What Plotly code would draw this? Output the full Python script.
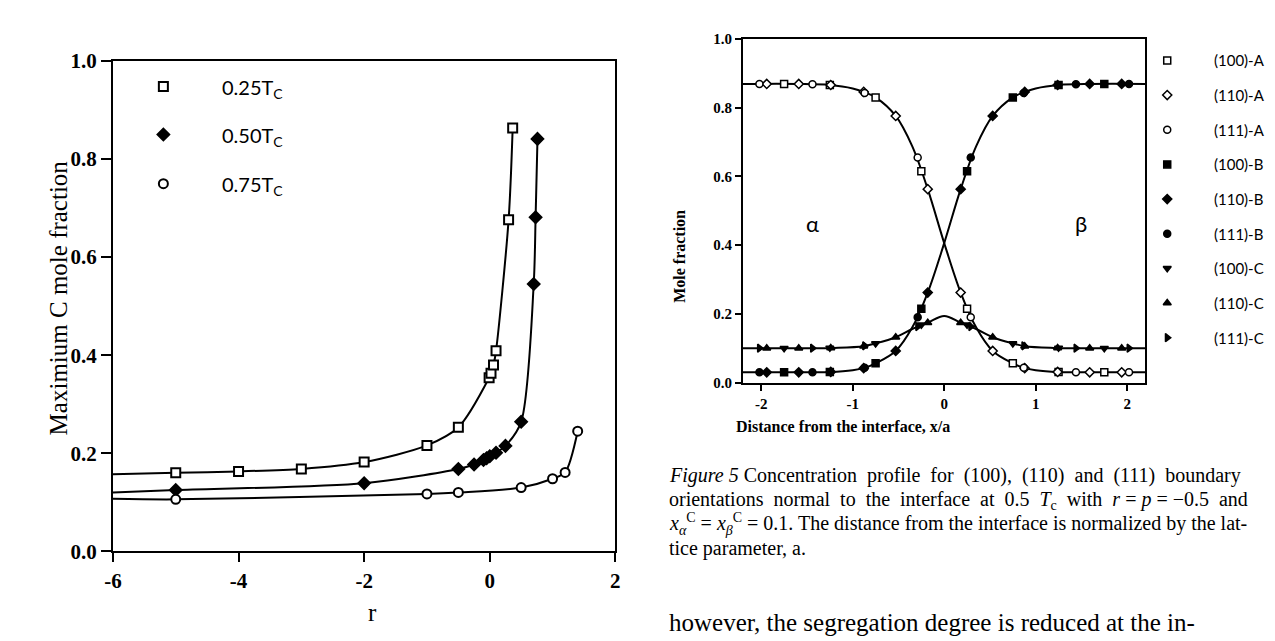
import plotly.graph_objects as go

# ---------------- Left chart data: maximum C mole fraction vs r ----------------
r_start = -6.0
line_start_y = [0.157, 0.120, 0.107]          # curves at left edge (r = -6)

r_025 = [-5, -4, -3, -2, -1, -0.5, -0.01, 0.02, 0.06, 0.10, 0.30, 0.365]
y_025 = [0.160, 0.163, 0.168, 0.182, 0.216, 0.253, 0.354, 0.363, 0.380, 0.409, 0.676, 0.863]

r_050 = [-5, -2, -0.5, -0.25, -0.1, -0.05, 0.0, 0.1, 0.25, 0.5, 0.70, 0.73, 0.76]
y_050 = [0.125, 0.139, 0.168, 0.177, 0.186, 0.190, 0.194, 0.201, 0.215, 0.264, 0.545, 0.681, 0.841]

r_075 = [-5, -1, -0.5, 0.5, 1.0, 1.2, 1.4]
y_075 = [0.106, 0.117, 0.120, 0.130, 0.148, 0.161, 0.245]

left_names = ["0.25T<sub>C</sub>", "0.50T<sub>C</sub>", "0.75T<sub>C</sub>"]

# ---------------- Right chart data: concentration profiles ----------------
cA_x = [-2.2, -1.6, -1.25, -1.0, -0.88, -0.75, -0.53, -0.35, -0.18, 0.0, 0.18, 0.35, 0.53, 0.75, 0.88, 1.0, 1.25, 1.6, 2.2]
cA_y = [0.869, 0.869, 0.866, 0.856, 0.846, 0.830, 0.776, 0.688, 0.563, 0.406, 0.262, 0.160, 0.092, 0.056, 0.042, 0.036, 0.031, 0.030, 0.030]
cB_x = [-2.2, -1.6, -1.25, -1.0, -0.88, -0.75, -0.53, -0.35, -0.18, 0.0, 0.18, 0.35, 0.53, 0.75, 0.88, 1.0, 1.25, 1.6, 2.2]
cB_y = [0.030, 0.030, 0.031, 0.036, 0.042, 0.056, 0.092, 0.160, 0.262, 0.406, 0.563, 0.688, 0.776, 0.830, 0.846, 0.856, 0.866, 0.869, 0.869]
cC_x = [-2.2, -1.5, -1.2, -0.88, -0.75, -0.53, -0.35, -0.18, 0.0, 0.18, 0.35, 0.53, 0.75, 0.88, 1.2, 1.5, 2.2]
cC_y = [0.100, 0.100, 0.101, 0.106, 0.114, 0.132, 0.156, 0.174, 0.194, 0.174, 0.156, 0.132, 0.114, 0.106, 0.101, 0.100, 0.100]

x100 = [-1.75, -1.25, -0.75, -0.25, 0.25, 0.75, 1.25, 1.75]
x110 = [-1.94, -1.59, -1.24, -0.88, -0.53, -0.18, 0.18, 0.53, 0.88, 1.24, 1.59, 1.94]
x111 = [-2.02, -1.44, -0.87, -0.29, 0.29, 0.87, 1.44, 2.02]

y100_A = [0.869, 0.866, 0.830, 0.615, 0.215, 0.056, 0.031, 0.030]
y110_A = [0.869, 0.869, 0.866, 0.846, 0.776, 0.563, 0.262, 0.092, 0.042, 0.031, 0.030, 0.030]
y111_A = [0.869, 0.868, 0.843, 0.655, 0.190, 0.043, 0.030, 0.030]
y100_B = [0.030, 0.031, 0.056, 0.215, 0.615, 0.830, 0.866, 0.869]
y110_B = [0.030, 0.030, 0.031, 0.042, 0.092, 0.262, 0.563, 0.776, 0.846, 0.866, 0.869, 0.869]
y111_B = [0.030, 0.030, 0.043, 0.190, 0.655, 0.843, 0.868, 0.869]
y100_C = [0.100, 0.101, 0.114, 0.168, 0.168, 0.114, 0.101, 0.100]
y110_C = [0.100, 0.100, 0.101, 0.106, 0.132, 0.174, 0.174, 0.132, 0.106, 0.101, 0.100, 0.100]
y111_C = [0.100, 0.100, 0.107, 0.163, 0.163, 0.107, 0.100, 0.100]

right_names = ["(100)-A", "(110)-A", "(111)-A", "(100)-B", "(110)-B", "(111)-B", "(100)-C", "(110)-C", "(111)-C"]
right_symbols = ["square", "diamond", "circle", "square", "diamond", "circle",
                 "triangle-down", "triangle-up", "triangle-right"]
right_fill = ["white", "white", "white", "black", "black", "black", "black", "black", "black"]

caption_lines = [
    "<i>Figure 5</i> Concentration  profile  for  (100),  (110)  and  (111)  boundary",
    "orientations  normal  to  the  interface  at  0.5  <i>T</i><sub>c</sub>  with  <i>r</i> = <i>p</i> = \u22120.5  and",
    "<i>x</i><sub><i>\u03b1</i></sub><sup>C</sup> = <i>x</i><sub><i>\u03b2</i></sub><sup>C</sup> = 0.1. The distance from the interface is normalized by the lat-",
    "tice parameter, a.",
]
body_line = "however, the segregation degree is reduced at the in-"

W, H = 1275, 641
SERIF = "Liberation Serif, Times New Roman, serif"
SANS = "Lato, Open Sans, sans-serif"

# pixel frames of the two plot areas
L_X0, L_X1, L_Y0, L_Y1 = 97, 605, 552, 42.5
R_X0, R_X1, R_Y0, R_Y1 = 734, 1141, 376.7, 19.7
G_X0 = 1147   # start of the legend strip right of the profile chart


def lpx(x, y):
    return -6 + (x - L_X0) / (L_X1 - L_X0) * 8, (L_Y0 - y) / (L_Y0 - L_Y1)


def pp(x, y):
    return x / W, 1 - y / H


fig = go.Figure()

# ---- left curves ----
left_sets = [(r_025, y_025, "square", "white"), (r_050, y_050, "diamond", "black"), (r_075, y_075, "circle", "white")]
for i, (rx, ry, sym, fill) in enumerate(left_sets):
    fig.add_trace(go.Scatter(x=[r_start] + rx, y=[line_start_y[i]] + ry, mode="lines",
                             line=dict(color="black", width=2, shape="spline", smoothing=0.8),
                             xaxis="x", yaxis="y", showlegend=False, hoverinfo="skip"))
for i, (rx, ry, sym, fill) in enumerate(left_sets):
    fig.add_trace(go.Scatter(x=rx, y=ry, mode="markers",
                             marker=dict(symbol=sym, size=9, color=fill, line=dict(color="black", width=2)),
                             xaxis="x", yaxis="y", showlegend=False, name=left_names[i]))

# ---- right curves ----
for cx, cy in [(cA_x, cA_y), (cB_x, cB_y), (cC_x, cC_y)]:
    fig.add_trace(go.Scatter(x=cx, y=cy, mode="lines",
                             line=dict(color="black", width=2, shape="spline", smoothing=1.0),
                             xaxis="x2", yaxis="y2", showlegend=False, hoverinfo="skip"))

right_series = [(x100, y100_A), (x110, y110_A), (x111, y111_A),
                (x100, y100_B), (x110, y110_B), (x111, y111_B),
                (x100, y100_C), (x110, y110_C), (x111, y111_C)]
for i, (sx, sy) in enumerate(right_series):
    fig.add_trace(go.Scatter(x=sx, y=sy, mode="markers", name=right_names[i],
                             marker=dict(symbol=right_symbols[i], size=7, color=right_fill[i],
                                         line=dict(color="black", width=1.5)),
                             xaxis="x2", yaxis="y2", showlegend=False))

# ---- hand-drawn legends ----
left_leg_px = [(148, 69), (148, 119), (148, 170)]
lx, ly = zip(*[lpx(a, b) for a, b in left_leg_px])
fig.add_trace(go.Scatter(x=lx, y=ly, mode="markers", xaxis="x", yaxis="y", cliponaxis=False,
                         marker=dict(symbol=[s[2] for s in left_sets], size=9,
                                     color=[s[3] for s in left_sets], line=dict(color="black", width=2)),
                         showlegend=False, hoverinfo="skip"))
right_leg_px = [(1163, 42 + 36 * i) for i in range(9)]
fig.add_trace(go.Scatter(x=[p[0] for p in right_leg_px], y=[p[1] for p in right_leg_px],
                         mode="markers", xaxis="x3", yaxis="y3", cliponaxis=False,
                         marker=dict(symbol=right_symbols, size=7, color=right_fill,
                                     line=dict(color="black", width=1.5)),
                         showlegend=False, hoverinfo="skip"))

ann = []


def add_text(x, y, text, size, family, **kw):
    ax, ay = pp(x, y)
    d = dict(x=ax, y=ay, xref="paper", yref="paper", text=text, showarrow=False,
             font=dict(family=family, size=size, color="black"))
    d.update(kw)
    ann.append(d)


for i, t in enumerate(left_names):
    add_text(205, left_leg_px[i][1] + 2, t, 20, SANS, xanchor="left", yanchor="middle")
for i, t in enumerate(right_names):
    add_text(1208, right_leg_px[i][1], t, 15, SANS, xanchor="left", yanchor="middle")

add_text(26, 289, "Maximium C mole fraction", 25, SERIF, textangle=-90)
add_text(353, 632, "r", 25, SERIF)
add_text(670, 195, "<b>Mole fraction</b>", 16, SERIF, textangle=-90)
add_text(945, 422, "<b>Distance from the interface, x/a</b>", 16, SERIF)

ann.append(dict(x=-1.44, y=0.462, xref="x2", yref="y2", text="\u03b1", showarrow=False,
                font=dict(family=SANS, size=22, color="black")))
ann.append(dict(x=1.50, y=0.462, xref="x2", yref="y2", text="\u03b2", showarrow=False,
                font=dict(family=SANS, size=22, color="black")))

cap_y = [473, 499, 524, 549]
for i, t in enumerate(caption_lines):
    add_text(657, cap_y[i], t, 20, SERIF, xanchor="left", yanchor="middle")
add_text(657, 626, body_line, 25, SERIF, xanchor="left", yanchor="middle")

axis_common = dict(showline=True, linecolor="black", linewidth=2, mirror=True, showgrid=False,
                   zeroline=False, ticks="outside", tickcolor="black")

fig.update_layout(
    width=W, height=H, margin=dict(l=0, r=0, t=0, b=0),
    paper_bgcolor="white", plot_bgcolor="white", showlegend=False,
    annotations=ann,
    xaxis=dict(domain=[L_X0 / W, L_X1 / W], range=[-6, 2], tickvals=[-6, -4, -2, 0, 2],
               ticktext=["<b>-6</b>", "<b>-4</b>", "<b>-2</b>", "<b>0</b>", "<b>2</b>"], ticklen=9, tickwidth=2,
               tickfont=dict(family=SERIF, size=21, color="black"), anchor="y", **axis_common),
    yaxis=dict(domain=[1 - L_Y0 / H, 1 - L_Y1 / H], range=[0, 1], tickvals=[0, 0.2, 0.4, 0.6, 0.8, 1.0],
               ticktext=["<b>0.0</b>", "<b>0.2</b>", "<b>0.4</b>", "<b>0.6</b>", "<b>0.8</b>", "<b>1.0</b>"],
               ticklen=10, tickwidth=2,
               tickfont=dict(family=SERIF, size=21, color="black"), anchor="x", **axis_common),
    xaxis2=dict(domain=[R_X0 / W, R_X1 / W], range=[-2.2, 2.2], tickvals=[-2, -1, 0, 1, 2],
                ticktext=["<b>-2</b>", "<b>-1</b>", "<b>0</b>", "<b>1</b>", "<b>2</b>"], ticklen=6, tickwidth=1.5,
                tickfont=dict(family=SERIF, size=15, color="black"), anchor="y2", **axis_common),
    yaxis2=dict(domain=[1 - R_Y0 / H, 1 - R_Y1 / H], range=[0, 1], tickvals=[0, 0.2, 0.4, 0.6, 0.8, 1.0],
                ticktext=["<b>0.0</b>", "<b>0.2</b>", "<b>0.4</b>", "<b>0.6</b>", "<b>0.8</b>", "<b>1.0</b>"],
                ticklen=6, tickwidth=1.5,
                tickfont=dict(family=SERIF, size=15, color="black"), anchor="x2", **axis_common),
    xaxis3=dict(domain=[G_X0 / W, 1], range=[G_X0, W], visible=False, fixedrange=True, anchor="y3"),
    yaxis3=dict(domain=[0, 1], range=[H, 0], visible=False, fixedrange=True, anchor="x3"),
)

fig.write_html("out.html")
